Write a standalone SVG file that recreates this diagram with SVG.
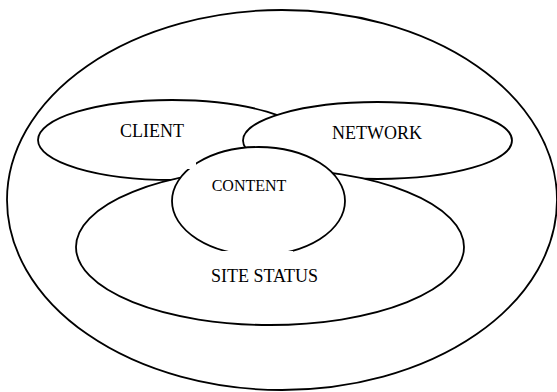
<svg xmlns="http://www.w3.org/2000/svg" width="557" height="392" viewBox="0 0 557 392">
<style>
.e{fill:#fff;stroke:#000;stroke-width:1.8}
.t{font-family:"Liberation Serif","Times New Roman",serif;font-size:18px;fill:#000;text-anchor:middle}
.s{font-size:16px}
.m{fill:#fff;stroke:none}
</style>
<rect width="557" height="392" fill="#fff"/>
<g id="outer"><ellipse class="e" cx="282" cy="200" rx="275" ry="190"/></g>
<g id="client"><ellipse class="e" cx="172" cy="140" rx="134" ry="40"/></g>
<g id="network"><ellipse class="e" cx="377.5" cy="140.5" rx="134.5" ry="38.5"/></g>
<g id="site-status"><ellipse class="e" cx="270" cy="247" rx="194" ry="78"/></g>
<g id="content"><ellipse class="e" cx="258.5" cy="201" rx="86.5" ry="54"/></g>
<g id="masks">
<rect class="m" x="187" y="162" width="9" height="7"/>
<rect class="m" x="215" y="251" width="78" height="8"/>
</g>
<g id="labels">
<text class="t" x="152" y="137">CLIENT</text>
<text class="t" x="377" y="139">NETWORK</text>
<text class="t s" x="249" y="191">CONTENT</text>
<text class="t" x="264.5" y="282">SITE STATUS</text>
</g>
<g id="connectors"></g>
</svg>
